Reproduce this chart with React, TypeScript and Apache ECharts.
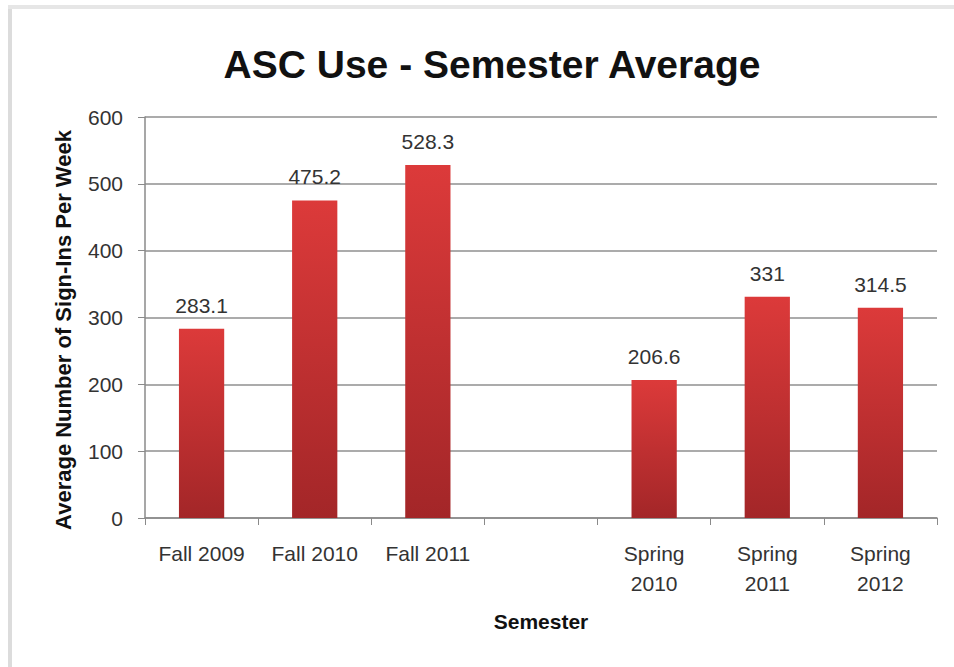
import React, { useEffect, useRef } from "react";
import * as echarts from "echarts";

const categories = ["Fall 2009", "Fall 2010", "Fall 2011", "", "Spring\n2010", "Spring\n2011", "Spring\n2012"];
const values: (number | null)[] = [283.1, 475.2, 528.3, null, 206.6, 331, 314.5];
const yTicks = { min: 0, max: 600, interval: 100 };
const titleText = "ASC Use - Semester Average";
const yName = "Average Number of Sign-Ins Per Week";
const xName = "Semester";

export default function App() {
  const ref = useRef<HTMLDivElement>(null);
  useEffect(() => {
    if (!ref.current) return;
    const chart = echarts.init(ref.current, null, { renderer: "svg" });
    const font = "'Liberation Sans', Arial, sans-serif";
    chart.setOption({
      animation: false,
      backgroundColor: "#ffffff",
      title: {
        text: titleText,
        left: 487,
        top: 40,
        textAlign: "center",
        textStyle: { fontFamily: font, fontSize: 39, fontWeight: "bold", color: "#111111" },
      },
      graphic: [
        { type: "line", shape: { x1: 10, y1: 8, x2: 10, y2: 667 }, style: { stroke: "#dcdcdc", lineWidth: 4 } },
        { type: "line", shape: { x1: 8, y1: 7, x2: 954, y2: 7 }, style: { stroke: "#e6e6e6", lineWidth: 4 } },
        {
          type: "text",
          x: 63,
          y: 330,
          rotation: Math.PI / 2,
          style: {
            text: yName,
            fontFamily: font,
            fontSize: 22,
            fontWeight: "bold",
            fill: "#111111",
            align: "center",
            verticalAlign: "middle",
          },
        },
      ],
      grid: { left: 145, right: 17, top: 117, bottom: 149 },
      xAxis: {
        type: "category",
        data: categories,
        name: xName,
        nameLocation: "middle",
        nameGap: 93,
        nameTextStyle: { fontFamily: font, fontSize: 21, fontWeight: "bold", color: "#111111" },
        axisLine: { lineStyle: { color: "#8a8a8a", width: 1.5 } },
        axisTick: { show: true, length: 7, lineStyle: { color: "#8a8a8a" } },
        axisLabel: {
          fontFamily: font,
          fontSize: 21,
          lineHeight: 30,
          color: "#333333",
          margin: 20,
          interval: 0,
        },
      },
      yAxis: {
        type: "value",
        min: yTicks.min,
        max: yTicks.max,
        interval: yTicks.interval,
        axisLine: { show: true, lineStyle: { color: "#8a8a8a", width: 1.5 } },
        axisTick: { show: true, length: 7, lineStyle: { color: "#8a8a8a" } },
        axisLabel: { fontFamily: font, fontSize: 21, color: "#333333", margin: 22 },
        splitLine: { show: true, lineStyle: { color: "#8f8f8f", width: 1.5 } },
      },
      series: [
        {
          type: "bar",
          data: values,
          barWidth: "40%",
          itemStyle: {
            color: new echarts.graphic.LinearGradient(0, 0, 0, 1, [
              { offset: 0, color: "#dc3a3a" },
              { offset: 1, color: "#a32628" },
            ]),
          },
          label: {
            show: true,
            position: "top",
            distance: 13,
            fontFamily: font,
            fontSize: 21,
            color: "#333333",
          },
        },
      ],
    });
    return () => chart.dispose();
  }, []);
  return <div ref={ref} style={{ width: 954, height: 667, position: "absolute", left: 0, top: 0 }} />;
}
